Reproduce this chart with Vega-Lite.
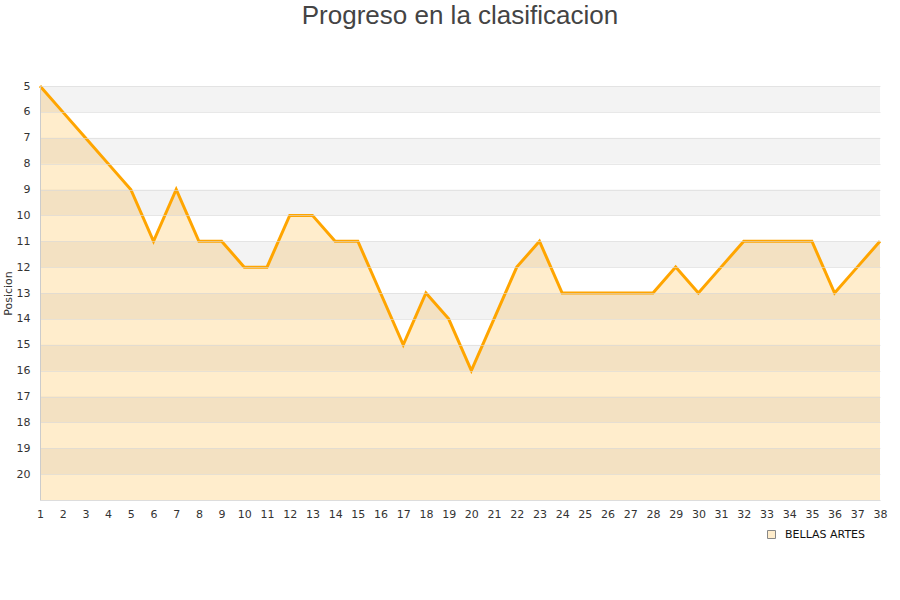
{
  "$schema": "https://vega.github.io/schema/vega-lite/v6.json",
  "autosize": "none",
  "width": 840,
  "height": 414,
  "padding": {"left": 40, "top": 86, "right": 20, "bottom": 100},
  "background": "white",
  "title": {"text": "Progreso en la clasificacion", "font": "Liberation Sans", "fontSize": 26, "fontWeight": "normal", "color": "#444444", "anchor": "middle", "offset": 51},
  "config": {
    "view": {"stroke": null},
    "axis": {"labelFont": "DejaVu Sans", "labelFontSize": 11, "labelColor": "#333", "titleFont": "DejaVu Sans", "titleFontWeight": "normal", "titleFontSize": 11, "titleColor": "#333", "labelOverlap": false, "ticks": false}
  },
  "datasets": {
    "bands": [
      {"y": 5, "y2": 6}, {"y": 7, "y2": 8}, {"y": 9, "y2": 10}, {"y": 11, "y2": 12},
      {"y": 13, "y2": 14}, {"y": 15, "y2": 16}, {"y": 17, "y2": 18}, {"y": 19, "y2": 20}
    ],
    "progreso": [
      {"jornada": 1, "pos": 5, "equipo": "BELLAS ARTES"},
      {"jornada": 2, "pos": 6, "equipo": "BELLAS ARTES"},
      {"jornada": 3, "pos": 7, "equipo": "BELLAS ARTES"},
      {"jornada": 4, "pos": 8, "equipo": "BELLAS ARTES"},
      {"jornada": 5, "pos": 9, "equipo": "BELLAS ARTES"},
      {"jornada": 6, "pos": 11, "equipo": "BELLAS ARTES"},
      {"jornada": 7, "pos": 9, "equipo": "BELLAS ARTES"},
      {"jornada": 8, "pos": 11, "equipo": "BELLAS ARTES"},
      {"jornada": 9, "pos": 11, "equipo": "BELLAS ARTES"},
      {"jornada": 10, "pos": 12, "equipo": "BELLAS ARTES"},
      {"jornada": 11, "pos": 12, "equipo": "BELLAS ARTES"},
      {"jornada": 12, "pos": 10, "equipo": "BELLAS ARTES"},
      {"jornada": 13, "pos": 10, "equipo": "BELLAS ARTES"},
      {"jornada": 14, "pos": 11, "equipo": "BELLAS ARTES"},
      {"jornada": 15, "pos": 11, "equipo": "BELLAS ARTES"},
      {"jornada": 16, "pos": 13, "equipo": "BELLAS ARTES"},
      {"jornada": 17, "pos": 15, "equipo": "BELLAS ARTES"},
      {"jornada": 18, "pos": 13, "equipo": "BELLAS ARTES"},
      {"jornada": 19, "pos": 14, "equipo": "BELLAS ARTES"},
      {"jornada": 20, "pos": 16, "equipo": "BELLAS ARTES"},
      {"jornada": 21, "pos": 14, "equipo": "BELLAS ARTES"},
      {"jornada": 22, "pos": 12, "equipo": "BELLAS ARTES"},
      {"jornada": 23, "pos": 11, "equipo": "BELLAS ARTES"},
      {"jornada": 24, "pos": 13, "equipo": "BELLAS ARTES"},
      {"jornada": 25, "pos": 13, "equipo": "BELLAS ARTES"},
      {"jornada": 26, "pos": 13, "equipo": "BELLAS ARTES"},
      {"jornada": 27, "pos": 13, "equipo": "BELLAS ARTES"},
      {"jornada": 28, "pos": 13, "equipo": "BELLAS ARTES"},
      {"jornada": 29, "pos": 12, "equipo": "BELLAS ARTES"},
      {"jornada": 30, "pos": 13, "equipo": "BELLAS ARTES"},
      {"jornada": 31, "pos": 12, "equipo": "BELLAS ARTES"},
      {"jornada": 32, "pos": 11, "equipo": "BELLAS ARTES"},
      {"jornada": 33, "pos": 11, "equipo": "BELLAS ARTES"},
      {"jornada": 34, "pos": 11, "equipo": "BELLAS ARTES"},
      {"jornada": 35, "pos": 11, "equipo": "BELLAS ARTES"},
      {"jornada": 36, "pos": 13, "equipo": "BELLAS ARTES"},
      {"jornada": 37, "pos": 12, "equipo": "BELLAS ARTES"},
      {"jornada": 38, "pos": 11, "equipo": "BELLAS ARTES"}
    ]
  },
  "layer": [
    {
      "data": {"name": "progreso"},
      "mark": {"type": "area", "fillOpacity": 1, "interpolate": "linear"},
      "encoding": {
        "x": {"field": "jornada", "type": "quantitative", "scale": {"domain": [1, 38], "nice": false, "zero": false},
              "axis": {"title": null, "values": [1,2,3,4,5,6,7,8,9,10,11,12,13,14,15,16,17,18,19,20,21,22,23,24,25,26,27,28,29,30,31,32,33,34,35,36,37,38], "format": "d", "grid": false, "domainColor": "#dddddd", "labelPadding": 8, "labelFlush": false}},
        "y": {"field": "pos", "type": "quantitative", "scale": {"domain": [5, 21], "reverse": true, "nice": false, "zero": false},
              "axis": {"title": "Posicion", "values": [5,6,7,8,9,10,11,12,13,14,15,16,17,18,19,20], "gridColor": "#d8d8d8", "gridOpacity": 0.6, "domainColor": "#cccccc", "labelPadding": 10, "titlePadding": 3, "zindex": 1}},
        "y2": {"datum": 21},
        "fill": {"field": "equipo", "type": "nominal", "scale": {"range": ["#ffedcc"]},
                 "legend": {"title": null, "orient": "none", "legendX": 726, "legendY": 443, "symbolType": "square", "symbolSize": 64, "symbolStrokeColor": "#888888", "symbolStrokeWidth": 1, "labelFont": "DejaVu Sans", "labelFontSize": 11, "labelColor": "#111", "labelOffset": 8}}
      }
    },
    {
      "data": {"name": "bands"},
      "mark": {"type": "rect", "color": "#000000", "opacity": 0.047},
      "encoding": {
        "y": {"field": "y", "type": "quantitative",
              "axis": {"title": "Posicion", "values": [5,6,7,8,9,10,11,12,13,14,15,16,17,18,19,20], "gridColor": "#d8d8d8", "gridOpacity": 0.6, "domainColor": "#cccccc", "labelPadding": 10, "titlePadding": 3, "zindex": 1}},
        "y2": {"field": "y2"}
      }
    },
    {
      "data": {"name": "progreso"},
      "mark": {"type": "line", "color": "#ffa500", "strokeWidth": 3, "zindex": 2},
      "encoding": {
        "x": {"field": "jornada", "type": "quantitative",
              "axis": {"title": null, "values": [1,2,3,4,5,6,7,8,9,10,11,12,13,14,15,16,17,18,19,20,21,22,23,24,25,26,27,28,29,30,31,32,33,34,35,36,37,38], "format": "d", "grid": false, "domainColor": "#dddddd", "labelPadding": 8, "labelFlush": false}},
        "y": {"field": "pos", "type": "quantitative",
              "axis": {"title": "Posicion", "values": [5,6,7,8,9,10,11,12,13,14,15,16,17,18,19,20], "gridColor": "#d8d8d8", "gridOpacity": 0.6, "domainColor": "#cccccc", "labelPadding": 10, "titlePadding": 3, "zindex": 1}}
      }
    }
  ]
}
